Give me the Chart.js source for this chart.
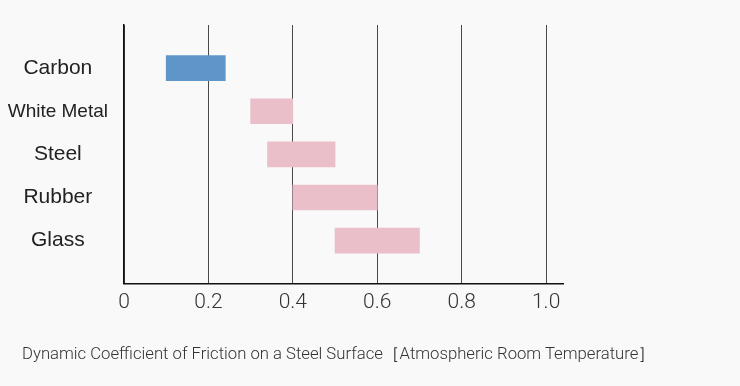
<!DOCTYPE html>
<html>
<head>
<meta charset="utf-8">
<script src="https://cdn.jsdelivr.net/npm/chart.js@4"></script>
<style>
  html, body { margin: 0; padding: 0; background: #f9f9f9; }
  .wrap { position: relative; width: 740px; height: 386px; }
  canvas { display: block; }
  #caption {
    position: absolute;
    left: 22px;
    top: 343px;
    margin: 0;
    font-family: Roboto, sans-serif;
    font-weight: 300;
    font-size: 17px;
    line-height: 20px;
    color: #333;
    white-space: nowrap;
    transform-origin: left top;
  }
</style>
</head>
<body>
<div class="wrap">
  <canvas id="frictionChart" width="740" height="386"></canvas>
  <p id="caption"></p>
</div>
<script>
// materials (blank entries pad the top and bottom of the axis)
const materials = ['', 'Carbon', 'White Metal', 'Steel', 'Rubber', 'Glass', ''];
const frictionLow = [null, 0.1, 0.3, 0.34, 0.4, 0.5, null];
const frictionHigh = [null, 0.24, 0.4, 0.5, 0.6, 0.7, null];
const barColors = ['#5f96c9', '#5f96c9', '#ebbfca', '#ebbfca', '#ebbfca', '#ebbfca', '#ebbfca'];
const xTicks = [0, 0.2, 0.4, 0.6, 0.8, 1.0];
const chartTitle = 'Dynamic Coefficient of Friction on a Steel Surface［Atmospheric Room Temperature］';

const ranges = frictionLow.map((lo, i) => lo === null ? null : [lo, frictionHigh[i]]);

// caption under the chart, squeezed to the width of the original
const caption = document.getElementById('caption');
caption.textContent = chartTitle;
const capWidth = caption.getBoundingClientRect().width;
caption.style.transform = 'scaleX(' + (633 / capWidth) + ')';

const ctx = document.getElementById('frictionChart');
const frictionChart = new Chart(ctx, {
  type: 'bar',
  data: {
    labels: materials,
    datasets: [{
      data: ranges,
      backgroundColor: barColors,
      borderWidth: 0,
      barThickness: 25
    }]
  },
  options: {
    responsive: false,
    animation: false,
    indexAxis: 'y',
    layout: {
      padding: { top: 25, right: 177, left: 0, bottom: 65 }
    },
    scales: {
      x: {
        z: 1,
        min: 0,
        max: 1.04,
        afterBuildTicks: (scale) => {
          scale.ticks = xTicks.map(v => ({ value: v }));
        },
        ticks: {
          padding: 6,
          color: '#333',
          font: { family: 'Roboto', size: 21, weight: 300 },
          callback: (v) => v === 0 ? '0' : Number(v).toFixed(1)
        },
        grid: {
          color: '#4a4a4a',
          lineWidth: 1,
          drawTicks: false
        },
        border: { color: '#111', width: 1.5 }
      },
      y: {
        offset: false,
        afterFit: (scale) => {
          scale.width = 124;
          // labels are padded with blanks, so no extra room above/below
          scale.paddingTop = 0;
          scale.paddingBottom = 0;
        },
        ticks: {
          padding: 16,
          crossAlign: 'center',
          color: '#222',
          autoSkip: false,
          font: (c) => ({
            family: 'Liberation Sans',
            size: c.tick && c.tick.label === 'White Metal' ? 19 : 21
          })
        },
        grid: { display: false, drawTicks: false },
        border: { color: '#111', width: 1.5 }
      }
    },
    plugins: {
      legend: { display: false },
      tooltip: { enabled: false },
      title: { display: false }
    }
  }
});
</script>
</body>
</html>
